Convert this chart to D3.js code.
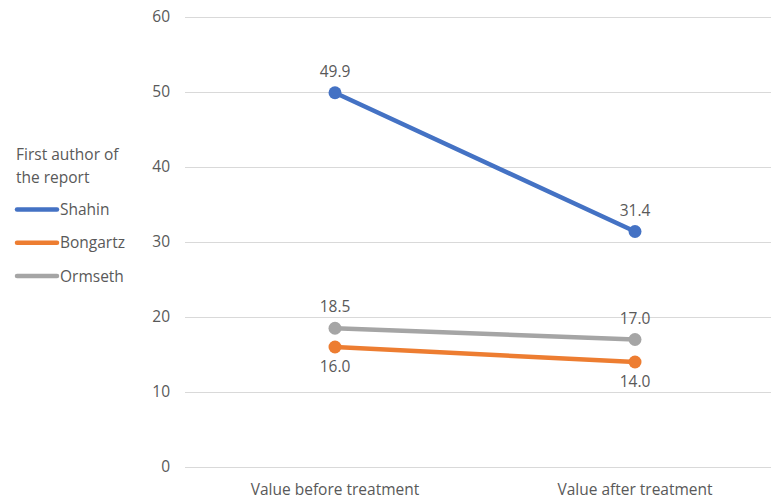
<!DOCTYPE html>
<html>
<head>
<meta charset="utf-8">
<script src="https://cdn.jsdelivr.net/npm/d3@7"></script>
<style>
  html, body { margin: 0; padding: 0; background: #fff; }
  svg { display: block; font-family: "Open Sans", "Noto Sans", sans-serif; }
</style>
</head>
<body>
<svg id="chart" width="771" height="501"></svg>
<script>
// Timepoints on the x axis
const categories = ["Value before treatment", "Value after treatment"];

// One series per report author
const seriesNames = ["Shahin", "Bongartz", "Ormseth"];
const shahinValues = [49.9, 31.4];
const bongartzValues = [16.0, 14.0];
const ormsethValues = [18.5, 17.0];

// Y axis ticks
const yTicks = [0, 10, 20, 30, 40, 50, 60];

const legendTitle = ["First author of", "the report"];

const seriesColors = ["#4472C4", "#ED7D31", "#A5A5A5"];
// Data labels sit above or below the point
const labelSide = [["above", "above"], ["below", "below"], ["above", "above"]];

const series = [
  { name: seriesNames[0], values: shahinValues, color: seriesColors[0], side: labelSide[0] },
  { name: seriesNames[1], values: bongartzValues, color: seriesColors[1], side: labelSide[1] },
  { name: seriesNames[2], values: ormsethValues, color: seriesColors[2], side: labelSide[2] }
];

const svg = d3.select("#chart");
const textColor = "#595959";
const fontSize = "15.5px";

const x = d3.scaleBand().domain(categories).range([185, 785]);
const y = d3.scaleLinear().domain([0, 60]).range([467, 17]);
const xc = c => x(c) + x.bandwidth() / 2;

// Horizontal gridlines
svg.append("g")
  .selectAll("line")
  .data(yTicks)
  .join("line")
  .attr("x1", 185).attr("x2", 771)
  .attr("y1", d => Math.round(y(d)) + 0.5)
  .attr("y2", d => Math.round(y(d)) + 0.5)
  .attr("stroke", "#D9D9D9")
  .attr("stroke-width", 1);

// Y axis labels
const yAxis = d3.axisLeft(y).tickValues(yTicks).tickSize(0).tickPadding(0).tickFormat(d3.format("d"));
const yg = svg.append("g").attr("transform", "translate(170,0)").call(yAxis);
yg.select(".domain").remove();
yg.selectAll("text").attr("fill", textColor).style("font-size", fontSize)
  .style("font-family", "\"Open Sans\", sans-serif");

// X axis labels
const xAxis = d3.axisBottom(x).tickSize(0).tickPadding(0);
const xg = svg.append("g").attr("transform", "translate(0,484)").call(xAxis);
xg.select(".domain").remove();
xg.selectAll("text").attr("fill", textColor).style("font-size", fontSize)
  .style("font-family", "\"Open Sans\", sans-serif");

// Lines
const line = d3.line().x((d, i) => xc(categories[i])).y(d => y(d));
const lines = svg.append("g");
series.forEach(s => {
  lines.append("path")
    .attr("d", line(s.values))
    .attr("fill", "none")
    .attr("stroke", s.color)
    .attr("stroke-width", 4.5)
    .attr("stroke-linecap", "round");
});

// Markers
series.forEach(s => {
  svg.append("g").selectAll("circle")
    .data(s.values)
    .join("circle")
    .attr("cx", (d, i) => xc(categories[i]))
    .attr("cy", d => y(d))
    .attr("r", 6.5)
    .attr("fill", s.color);
});

// Data labels
series.forEach(s => {
  svg.append("g").selectAll("text")
    .data(s.values)
    .join("text")
    .attr("x", (d, i) => xc(categories[i]))
    .attr("y", (d, i) => s.side[i] === "above" ? y(d) - 16 : y(d) + 25)
    .attr("text-anchor", "middle")
    .attr("fill", textColor)
    .style("font-size", fontSize)
    .text(d => d3.format(".1f")(d));
});

// Legend
const legend = svg.append("g");
legend.selectAll("text.title")
  .data(legendTitle)
  .join("text")
  .attr("class", "title")
  .attr("x", 16)
  .attr("y", (d, i) => 160 + i * 23)
  .attr("fill", textColor)
  .style("font-size", fontSize)
  .text(d => d);

const items = legend.selectAll("g.item")
  .data(series)
  .join("g")
  .attr("class", "item")
  .attr("transform", (d, i) => `translate(16,${209.5 + i * 33.3})`);
items.append("line")
  .attr("x1", 1).attr("x2", 41).attr("y1", 0).attr("y2", 0)
  .attr("stroke", d => d.color)
  .attr("stroke-width", 4.5)
  .attr("stroke-linecap", "round");
items.append("text")
  .attr("x", 44).attr("y", 5.5)
  .attr("fill", textColor)
  .style("font-size", fontSize)
  .text(d => d.name);
</script>
</body>
</html>
